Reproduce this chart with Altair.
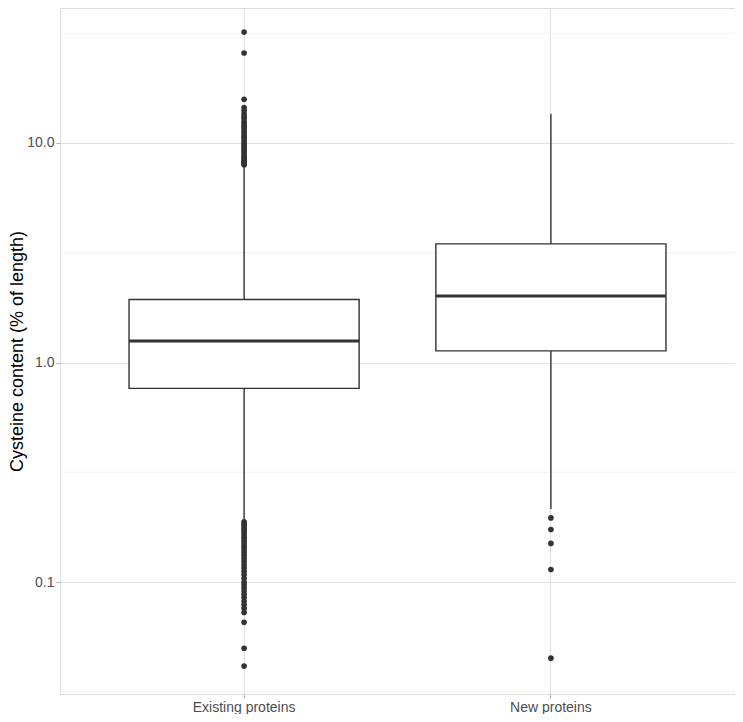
import altair as alt
import pandas as pd

# ---- data ----
categories = ["Existing proteins", "New proteins"]
q1 = [0.762, 1.13]
median = [1.254, 2.01]
q3 = [1.937, 3.47]
whisker_low = [0.192, 0.215]
whisker_high = [7.85, 13.6]

existing_outliers = [
    32.0, 25.7, 15.8, 14.5, 14.1, 13.6, 13.2, 12.9, 12.5, 12.2, 11.9, 11.6,
    11.3, 11.0, 10.7, 10.5, 10.2, 10.0, 9.8, 9.6, 9.4, 9.2, 9.0, 8.8, 8.6,
    8.5, 8.3, 8.2, 8.1, 8.0, 7.95,
    0.188, 0.184, 0.180, 0.176, 0.172, 0.168, 0.164, 0.160, 0.156, 0.152,
    0.148, 0.144, 0.140, 0.136, 0.132, 0.128, 0.124, 0.120, 0.116, 0.112,
    0.108, 0.104, 0.100, 0.097, 0.094, 0.091, 0.088, 0.085, 0.082, 0.079,
    0.076, 0.0727, 0.0655, 0.0499, 0.0414,
]
new_outliers = [0.196, 0.1735, 0.150, 0.114, 0.045]

y_ticks = [0.1, 1.0, 10.0]
y_domain = [0.0309, 41.2]

# ---- tables ----
box_df = pd.DataFrame({
    "cat": categories, "q1": q1, "median": median, "q3": q3,
    "lo": whisker_low, "hi": whisker_high,
})
out_df = pd.DataFrame({
    "cat": [categories[0]] * len(existing_outliers) + [categories[1]] * len(new_outliers),
    "value": existing_outliers + new_outliers,
})
minor_df = pd.DataFrame({"v": [10 ** (k + 0.5) for k in range(-2, 2)]})

FONT = "Liberation Sans"
DARK = "#333333"

yscale = alt.Scale(type="log", domain=y_domain, nice=False, zero=False)
yaxis = alt.Axis(
    values=y_ticks, format=".1f", title="Cysteine content (% of length)",
    titleX=-52, titleBaseline="top", titleFontSize=18, titleColor="#000000",
    titleFontWeight="normal", titleFont=FONT,
    labelFontSize=14, labelColor="#4D4D4D", labelFont=FONT, labelPadding=2,
    tickColor="#B3B3B3", tickSize=4, domain=False,
    grid=True, gridColor="#E2E2E2", gridWidth=1,
)
xscale = alt.Scale(domain=categories, paddingInner=0, paddingOuter=0.1)
xaxis = alt.Axis(
    title=None, labelAngle=0, labelFontSize=14, labelColor="#4D4D4D",
    labelFont=FONT, labelPadding=2, tickColor="#B3B3B3", tickSize=4,
    domain=False, grid=True, gridColor="#E2E2E2", gridWidth=1,
)

minor = alt.Chart(minor_df).mark_rule(color="#F1F1F1", strokeWidth=1).encode(
    y=alt.Y("v:Q", scale=yscale, axis=yaxis)
)

base = alt.Chart(box_df)
x_enc = alt.X("cat:N", scale=xscale, axis=xaxis, sort=categories)

whisk_low = base.mark_rule(color=DARK, strokeWidth=1.4).encode(
    x=x_enc, y=alt.Y("lo:Q", scale=yscale, axis=yaxis), y2="q1:Q"
)
whisk_high = base.mark_rule(color=DARK, strokeWidth=1.4).encode(
    x=x_enc, y=alt.Y("q3:Q", scale=yscale, axis=yaxis), y2="hi:Q"
)
box = base.mark_bar(
    width=alt.RelativeBandSize(0.75), fill="white", stroke=DARK, strokeWidth=1.4
).encode(
    x=x_enc, y=alt.Y("q1:Q", scale=yscale, axis=yaxis), y2="q3:Q"
)
med = base.mark_bar(
    width=alt.RelativeBandSize(0.75), fill=DARK, stroke=DARK, strokeWidth=3
).encode(
    x=x_enc, y=alt.Y("median:Q", scale=yscale, axis=yaxis), y2="median:Q"
)
pts = alt.Chart(out_df).mark_circle(size=32, color=DARK, opacity=1).encode(
    x=x_enc, y=alt.Y("value:Q", scale=yscale, axis=yaxis)
)

chart = alt.layer(minor, whisk_low, whisk_high, box, med, pts).properties(
    width=675, height=686,
    autosize=alt.AutoSizeParams(type="none"),
    padding={"left": 52, "top": 0, "right": 0, "bottom": 20},
).configure_view(
    stroke="#B3B3B3", strokeWidth=1.2
).configure(background="white")

chart.save("out.html", embed_options={"renderer": "svg", "actions": False})
